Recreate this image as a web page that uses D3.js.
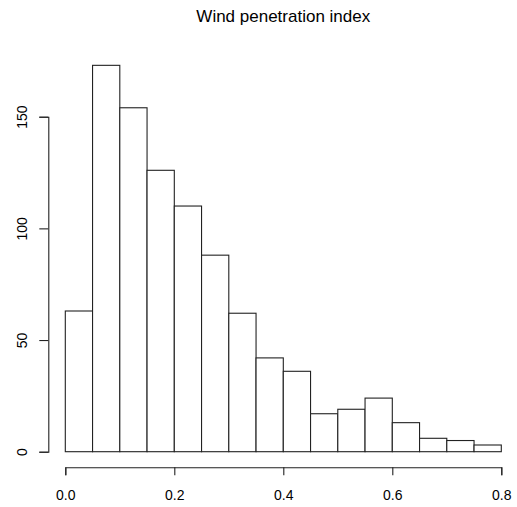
<!DOCTYPE html>
<html>
<head>
<meta charset="utf-8">
<script src="https://cdn.jsdelivr.net/npm/d3@7"></script>
<style>
  body { margin: 0; background: #fff; }
  svg text { font-family: "Liberation Sans", Arial, sans-serif; fill: #000; }
</style>
</head>
<body>
<div id="chart"></div>
<script>
// histogram bins (left edges), width 0.05
const binStarts = [0, 0.05, 0.1, 0.15, 0.2, 0.25, 0.3, 0.35, 0.4, 0.45, 0.5, 0.55, 0.6, 0.65, 0.7, 0.75];
const binWidth = 0.05;
const counts = [63, 173, 154, 126, 110, 88, 62, 42, 36, 17, 19, 24, 13, 6, 5, 3];
const xTicks = [0, 0.2, 0.4, 0.6, 0.8];
const yTicks = [0, 50, 100, 150];
const title = "Wind penetration index";

const width = 517, height = 507;

const svg = d3.select("#chart").append("svg")
  .attr("width", width)
  .attr("height", height);

const x = d3.scaleLinear().domain([0, 0.8]).range([65.3, 501.3]);
const y = d3.scaleLinear().domain([0, 150]).range([451.7, 116.7]);

// bars
svg.append("g")
  .selectAll("rect")
  .data(counts)
  .join("rect")
  .attr("x", (d, i) => x(binStarts[i]))
  .attr("y", d => y(d))
  .attr("width", (d, i) => x(binStarts[i] + binWidth) - x(binStarts[i]))
  .attr("height", d => y(0) - y(d))
  .attr("fill", "#fff")
  .attr("stroke", "#222")
  .attr("stroke-width", 1.1);

// x axis
const xAxis = svg.append("g")
  .attr("transform", "translate(0,467.3)")
  .call(d3.axisBottom(x).tickValues(xTicks).tickFormat(d3.format(".1f")).tickSize(8).tickPadding(14.5));

// y axis
const yAxis = svg.append("g")
  .attr("transform", "translate(48.3,0)")
  .call(d3.axisLeft(y).tickValues(yTicks).tickSize(9).tickPadding(4));

// R-style rotated y labels
yAxis.selectAll(".tick text")
  .attr("transform", "rotate(-90)")
  .attr("text-anchor", "middle")
  .attr("x", 0)
  .attr("dy", 0)
  .attr("y", -21.8);

[xAxis, yAxis].forEach(ax => {
  ax.select(".domain").attr("stroke", "#222").attr("stroke-width", 1.1);
  ax.selectAll(".tick line").attr("stroke", "#222").attr("stroke-width", 1.1);
  ax.selectAll(".tick text")
    .style("font-family", "'Liberation Sans', Arial, sans-serif")
    .style("font-size", "14px")
    .attr("fill", "#000");
});

// title
svg.append("text")
  .attr("x", (x(-0.032) + x(0.832)) / 2)
  .attr("y", 22)
  .attr("text-anchor", "middle")
  .style("font-size", "17px")
  .text(title);
</script>
</body>
</html>
